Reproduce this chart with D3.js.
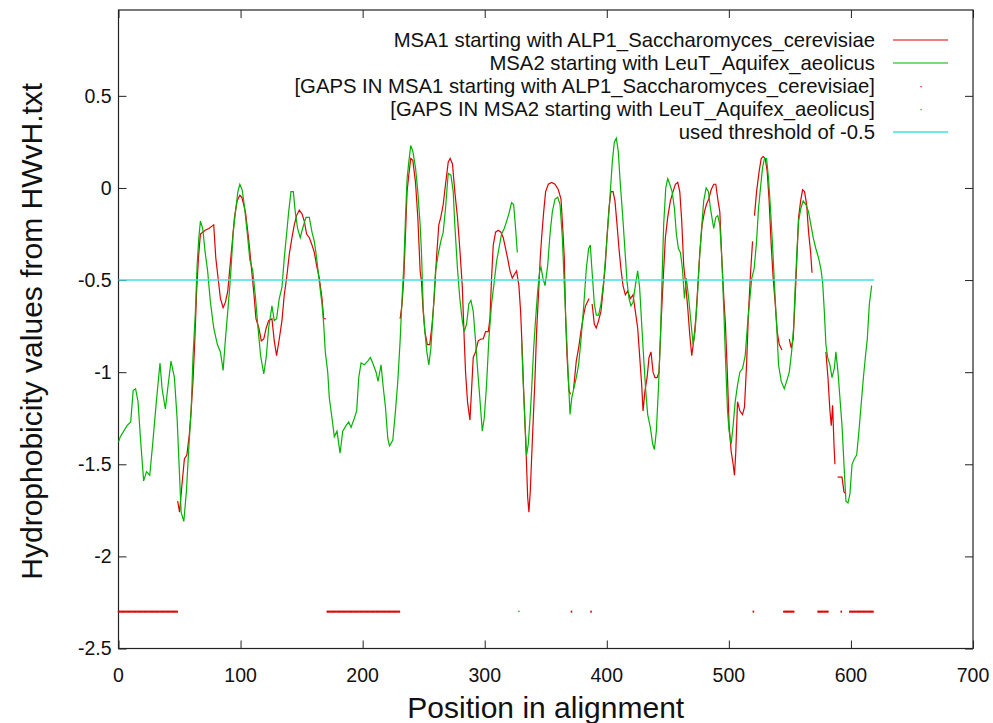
<!DOCTYPE html>
<html><head><meta charset="utf-8">
<script src="https://cdn.jsdelivr.net/npm/d3@7"></script>
<style>html,body{margin:0;padding:0;background:#fff;}svg{display:block;font-family:"Liberation Sans",Arial,sans-serif;}</style>
</head><body>
<script>
// ---- data ----
const xTicks = [0,100,200,300,400,500,600,700];
const yTicks = [0.5,0,-0.5,-1,-1.5,-2,-2.5];
const legendLabels = [
  "MSA1 starting with ALP1_Saccharomyces_cerevisiae",
  "MSA2 starting with LeuT_Aquifex_aeolicus",
  "[GAPS IN MSA1 starting with ALP1_Saccharomyces_cerevisiae]",
  "[GAPS IN MSA2 starting with LeuT_Aquifex_aeolicus]",
  "used threshold of -0.5"
];
const threshold = -0.5;
const gapLevel = -2.3;
// null marks a break in the line
const msa1X = [48.5,50,52,54,56,58,59.5,61,62.5,64,65.5,67.1,69,71,74,76,78,79.7,81.6,83.5,85.7,87.6,89.5,91,93,95,97.2,99.4,101,104,106.8,108.7,111,112.6,115,117,119,121,123,125.7,127.6,129.5,131.7,133.9,135.8,137.7,139.9,142.1,144,145.9,148.1,150.3,152.2,154.1,156.3,158.5,160.4,162.3,164.5,166.7,168.1,170,
 null,
 230.7,232.3,233.7,235.1,236.4,237.8,239.4,241.1,243.3,245.2,247.1,248.2,249.6,251,253,255,256.9,258.6,260.5,262.4,264,266,267.9,270.1,271.7,273.6,275.5,277.7,279.6,281.6,283.2,284.3,285.9,287.9,289.2,290.6,292.5,294.7,296.9,298.8,300.7,302.9,304.3,305.6,307,308.9,311.1,313.3,315.2,317.1,318.7,320.7,322.6,324.2,326.1,328,329.4,330.8,331.9,333,334.1,335.2,336.2,337.3,338.4,339.8,341.2,342.5,343.9,345.5,346.6,348.3,349.9,352.1,354.8,357.6,360.3,362.5,364.1,365.2,366.3,367.4,369,370.3,
 null,
 372.8,375,376.9,378.8,381,382.6,385.5,
 null,
 388,389.8,391.4,393.3,395.2,396.9,398.8,400.1,401.8,403.4,405.1,406.7,408.4,410,411.6,413.3,415.2,417.1,419.3,421.5,423.4,425.3,426.9,428.6,429.7,431.3,433,434.6,436.2,437.9,439.5,441.2,442.8,444.4,446.1,448,449.9,452.1,454.3,456.2,458.1,459.8,461.4,463,464.7,466.3,468,469.6,471.2,472.9,474.5,476.2,478.1,480,481.6,483.5,485.5,487.6,489.3,490.9,492.6,494.2,495.9,497.2,498.9,500.2,501.9,503.5,504.6,505.7,507.1,509,511.2,512.8,514.5,516.1,517.7,519.4,
 null,
 521,522.7,524.8,526.5,528.1,529.8,531.4,533,534.7,536.3,538,539.6,541.3,543.5,
 null,
 549.5,551.1,552.7,553.8,555.5,557.1,558.8,560.4,562,563.7,565.3,567,568.1,
 null,
 579.5,581.2,582.8,583.9,585,586.1,586.9,
 null,
 589.1,591,592.7,594.3,596];
const msa1Y = [-1.70,-1.76,-1.61,-1.47,-1.45,-1.34,-1.21,-1.05,-0.83,-0.56,-0.38,-0.25,-0.24,-0.23,-0.22,-0.21,-0.20,-0.38,-0.49,-0.60,-0.65,-0.62,-0.56,-0.45,-0.31,-0.16,-0.07,-0.04,-0.05,-0.13,-0.29,-0.42,-0.58,-0.71,-0.76,-0.83,-0.82,-0.76,-0.72,-0.71,-0.83,-0.91,-0.82,-0.72,-0.58,-0.49,-0.36,-0.27,-0.20,-0.15,-0.12,-0.14,-0.18,-0.25,-0.27,-0.31,-0.35,-0.42,-0.49,-0.60,-0.71,-0.71,
 null,
 -0.71,-0.63,-0.49,-0.25,-0.02,0.07,0.16,0.15,0.03,-0.16,-0.45,-0.51,-0.67,-0.78,-0.85,-0.85,-0.74,-0.60,-0.38,-0.20,-0.16,-0.09,0.02,0.14,0.16,0.13,-0.02,-0.16,-0.33,-0.53,-0.82,-1.00,-1.16,-1.26,-1.10,-0.92,-0.89,-0.83,-0.82,-0.82,-0.78,-0.78,-0.71,-0.49,-0.31,-0.24,-0.23,-0.24,-0.27,-0.33,-0.38,-0.45,-0.49,-0.47,-0.45,-0.53,-0.67,-0.89,-1.10,-1.28,-1.47,-1.68,-1.76,-1.65,-1.47,-1.25,-1.03,-0.78,-0.60,-0.38,-0.27,-0.13,-0.02,0.02,0.03,0.02,-0.01,-0.06,-0.24,-0.38,-0.71,-0.91,-1.10,-1.12,
 null,
 -1.09,-0.94,-0.87,-0.78,-0.69,-0.64,-0.60,
 null,
 -0.63,-0.74,-0.76,-0.72,-0.67,-0.56,-0.42,-0.27,-0.11,-0.02,-0.02,-0.07,-0.20,-0.33,-0.44,-0.53,-0.58,-0.56,-0.60,-0.58,-0.67,-0.76,-0.91,-1.07,-1.21,-1.10,-1.03,-0.92,-0.89,-1.00,-1.03,-1.03,-1.00,-0.74,-0.51,-0.27,-0.16,-0.07,-0.02,0.02,0.03,-0.02,-0.18,-0.42,-0.53,-0.65,-0.80,-0.91,-0.83,-0.71,-0.54,-0.35,-0.20,-0.13,-0.09,-0.06,-0.01,0.02,0.02,-0.06,-0.13,-0.38,-0.60,-0.74,-1.03,-1.29,-1.43,-1.50,-1.56,-1.43,-1.16,-1.21,-1.23,-1.19,-0.96,-0.67,-0.47,-0.29,
 null,
 -0.15,-0.02,0.09,0.16,0.17,0.16,0.09,-0.07,-0.31,-0.49,-0.63,-0.78,-0.85,-0.88,
 null,
 -0.82,-0.87,-0.82,-0.67,-0.42,-0.16,-0.07,-0.01,-0.02,-0.09,-0.24,-0.35,-0.46,
 null,
 -0.89,-1.03,-1.21,-1.29,-1.18,-1.39,-1.50,
 null,
 -1.57,-1.57,-1.57,-1.65,-1.66];
const msa2X = [0,1.5,7,10,12,14,16,18,20.6,23,25.6,28,31,34,35.7,38.4,40.3,43,45.8,48,50,51.3,53.5,55.6,57.6,59.5,61,63,64.4,65.8,67.1,69,71,73,75.3,78,81,83.5,85.7,87.6,89.5,91.7,94,95.8,97.8,99.4,101.3,103,105.4,107.6,110,112.3,114,116.4,119,121,123,125.7,127.6,129.5,131.7,133.9,135.8,137.7,139.4,141.3,143.2,144.8,146.7,148.9,150.8,153.6,156.3,158.5,160.4,162.3,164.5,166.7,168.1,169.4,171.4,172.7,174.9,176.8,179,181.5,183.7,186.4,188.6,190.5,193.2,195.1,196.8,198.7,201.4,204.2,206.4,208.8,211,212.6,215.1,217,218.7,220.6,222,224.7,226.9,228.8,230.7,232.3,233.7,235.1,236.4,237.8,239.4,241.1,243.3,245.2,247.1,248.2,249.6,251,252.6,254.2,255.9,257.8,259.7,261.9,264,266,267.9,270.1,272.3,274.2,275.5,277.7,279.6,281.6,283.2,285.1,287,288.7,290.6,292.5,294.1,296,298,299.6,301.5,303.4,305.6,307.8,309.7,311.6,313.8,316,318,319.8,322,323.7,325.3,326.7,
 null,
 330.2,331.6,333,334.3,335.7,337.1,338.4,340.1,341.7,343.4,345,346.1,347.7,349.4,351.6,353.5,355.4,357.6,359.8,361.7,363.6,365.2,366.9,368.5,369.9,371.3,372.6,375,376.9,378.8,381,383.2,385.1,386.5,387.8,389.8,391.4,393.3,395.2,397.4,399.3,401,402.9,404.5,406.2,407.8,409.4,411.1,413,414.6,416.6,418.2,419.8,421.5,423.4,425.3,426.9,428.6,430.2,431.9,433.5,435.7,437.6,439,440.6,442.3,443.9,445.3,446.6,448.3,449.9,451.6,453.5,455.4,457,458.7,460.3,462,463.6,465.2,467.1,469.1,470.7,472.3,474,475.6,477.3,479.4,481.4,483.3,484.9,486.6,487.6,489.3,490.9,492.6,494.2,495.9,497.2,498.9,500.2,501.9,503.5,505.2,507.1,509,511.2,513.4,515.3,517.2,518.8,520.7,522.7,524.3,525.9,527.6,529.2,530.9,532.5,534.1,535.8,537.4,539.1,540.7,542.9,545.4,547.3,549.5,551.4,553,554.4,555.7,557.1,559,560.9,563.1,565.3,567.2,569.1,571.3,573.5,575.4,576.8,578.2,579.5,580.9,582.8,584.5,586.4,587.7,589.4,591,592.7,594.3,595.9,597.6,599.2,600.9,602.8,604.7,606.3,608.2,610.2,611.8,613.4,615.1,617];
const msa2Y = [-1.38,-1.35,-1.29,-1.27,-1.10,-1.09,-1.16,-1.36,-1.59,-1.54,-1.56,-1.39,-1.16,-0.95,-1.09,-1.20,-1.09,-0.94,-1.03,-1.25,-1.56,-1.76,-1.81,-1.65,-1.41,-1.21,-0.92,-0.67,-0.42,-0.27,-0.18,-0.22,-0.35,-0.45,-0.62,-0.76,-0.85,-0.89,-0.99,-0.82,-0.67,-0.49,-0.24,-0.13,-0.02,0.02,-0.01,-0.09,-0.24,-0.39,-0.45,-0.60,-0.74,-0.91,-1.01,-0.92,-0.76,-0.64,-0.72,-0.71,-0.60,-0.54,-0.38,-0.25,-0.13,-0.02,-0.02,-0.13,-0.22,-0.27,-0.22,-0.16,-0.16,-0.24,-0.29,-0.38,-0.51,-0.63,-0.74,-0.89,-1.00,-1.14,-1.25,-1.35,-1.32,-1.44,-1.32,-1.29,-1.27,-1.30,-1.25,-1.21,-1.03,-0.95,-0.96,-0.94,-0.92,-0.96,-1.00,-1.05,-0.96,-1.09,-1.19,-1.36,-1.40,-1.37,-1.21,-1.05,-0.83,-0.60,-0.42,-0.16,0.05,0.14,0.23,0.20,0.11,-0.02,-0.20,-0.35,-0.65,-0.78,-0.89,-0.96,-0.87,-0.67,-0.45,-0.36,-0.29,-0.24,-0.11,0.08,0.07,-0.02,-0.20,-0.44,-0.60,-0.72,-0.78,-0.74,-0.63,-0.61,-0.67,-0.83,-0.98,-1.14,-1.32,-1.25,-1.07,-0.82,-0.63,-0.51,-0.40,-0.33,-0.25,-0.22,-0.18,-0.14,-0.08,-0.09,-0.22,-0.35,
 null,
 -0.83,-1.07,-1.28,-1.45,-1.39,-1.25,-1.10,-0.87,-0.71,-0.56,-0.45,-0.43,-0.49,-0.53,-0.42,-0.25,-0.13,-0.06,-0.05,-0.09,-0.27,-0.53,-0.78,-1.03,-1.23,-1.14,-1.10,-1.03,-0.96,-0.83,-0.65,-0.44,-0.33,-0.31,-0.44,-0.63,-0.69,-0.69,-0.63,-0.51,-0.35,-0.20,-0.02,0.14,0.25,0.27,0.20,0.02,-0.15,-0.31,-0.51,-0.60,-0.64,-0.62,-0.53,-0.45,-0.54,-0.74,-0.92,-1.10,-1.23,-1.30,-1.39,-1.42,-1.32,-1.09,-0.82,-0.49,-0.20,0.00,0.05,0.02,-0.02,-0.11,-0.25,-0.33,-0.35,-0.44,-0.60,-0.49,-0.60,-0.74,-0.85,-0.78,-0.62,-0.42,-0.25,-0.07,0.00,-0.02,-0.11,-0.18,-0.22,-0.16,-0.15,-0.20,-0.38,-0.67,-0.92,-1.21,-1.32,-1.39,-1.29,-1.16,-1.07,-1.00,-0.98,-0.91,-0.74,-0.60,-0.49,-0.44,-0.29,-0.11,0.00,0.11,0.16,0.16,0.05,-0.11,-0.31,-0.53,-0.74,-0.96,-1.05,-1.09,-1.05,-1.00,-0.89,-0.76,-0.53,-0.35,-0.18,-0.11,-0.07,-0.09,-0.13,-0.20,-0.27,-0.33,-0.38,-0.44,-0.51,-0.67,-0.85,-0.92,-0.96,-1.03,-0.98,-0.89,-1.00,-1.14,-1.29,-1.50,-1.70,-1.71,-1.66,-1.50,-1.47,-1.45,-1.34,-1.19,-1.03,-0.92,-0.82,-0.63,-0.53];
const gapRanges1 = [[0,48],[171,230],[371,371],[387,387],[520,520],[545,553],[573,581],[592,592],[599,618]];
const gapRanges2 = [[328,328]];
const thresholdSpan = [0,619];

// ---- chart ----
const W = 993, H = 723;
const colors = {msa1:"#e00000", msa2:"#00b400", thr:"#40e0e0"};
const svg = d3.select("body").append("svg").attr("width",W).attr("height",H);
const x = d3.scaleLinear().domain([0,700]).range([118.5,973]);
const y = d3.scaleLinear().domain([-2.5,0.966]).range([648.5,10]);
const pL = x.range()[0], pR = x.range()[1], pT = y.range()[1], pB = y.range()[0];

// axes (ticks inward, mirrored)
const tickLen = 8;
const gL = svg.append("g").attr("transform",`translate(${pL},0)`)
  .call(d3.axisRight(y).tickValues(yTicks).tickSize(tickLen).tickFormat(""));
const gR = svg.append("g").attr("transform",`translate(${pR},0)`)
  .call(d3.axisLeft(y).tickValues(yTicks).tickSize(tickLen).tickFormat(""));
const gB = svg.append("g").attr("transform",`translate(0,${pB})`)
  .call(d3.axisTop(x).tickValues(xTicks).tickSize(tickLen).tickFormat(""));
const gT = svg.append("g").attr("transform",`translate(0,${pT})`)
  .call(d3.axisBottom(x).tickValues(xTicks).tickSize(tickLen).tickFormat(""));
[gL,gR,gB,gT].forEach(g=>{g.select(".domain").remove(); g.selectAll("line").attr("stroke","#222");});

// tick labels
svg.append("g").selectAll("text").data(yTicks).join("text")
  .attr("x",pL-7).attr("y",d=>y(d)).attr("dy","0.35em")
  .attr("text-anchor","end").attr("font-size",19.5).attr("fill","#111")
  .text(d=>String(d));
svg.append("g").selectAll("text").data(xTicks).join("text")
  .attr("x",d=>x(d)).attr("y",pB+33)
  .attr("text-anchor","middle").attr("font-size",19.5).attr("fill","#111")
  .text(d=>d);

// border
svg.append("rect").attr("x",pL).attr("y",pT).attr("width",pR-pL).attr("height",pB-pT)
  .attr("fill","none").attr("stroke","#222").attr("stroke-width",1.2);

// axis titles
svg.append("text").attr("x",(pL+pR)/2).attr("y",718).attr("text-anchor","middle")
  .attr("font-size",30).attr("fill","#111").text("Position in alignment");
svg.append("text").attr("transform",`translate(42,${(pT+pB)/2+2}) rotate(-90)`)
  .attr("text-anchor","middle").attr("font-size",30).attr("fill","#111")
  .text("Hydrophobicity values from HWvH.txt");

// lines
function pts(xs,ys){return xs.map((v,i)=>({x:v,y:ys[i]}));}
const line = d3.line().defined(d=>d.x!=null && d.y!=null).x(d=>x(d.x)).y(d=>y(d.y));
const plot = svg.append("g");
plot.append("path").datum(pts(msa1X,msa1Y)).attr("d",line)
  .attr("fill","none").attr("stroke",colors.msa1).attr("stroke-width",1.2);
plot.append("path").datum(pts(msa2X,msa2Y)).attr("d",line)
  .attr("fill","none").attr("stroke",colors.msa2).attr("stroke-width",1.2);

// gaps as dots at gap level
function expand(ranges){const out=[];ranges.forEach(([a,b])=>{for(let i=a;i<=b;i++)out.push(i);});return out;}
plot.append("g").selectAll("rect").data(expand(gapRanges1)).join("rect")
  .attr("x",d=>x(d)-0.7).attr("y",y(gapLevel)-1).attr("width",1.6).attr("height",2).attr("fill",colors.msa1);
plot.append("g").selectAll("rect").data(expand(gapRanges2)).join("rect")
  .attr("x",d=>x(d)-0.7).attr("y",y(gapLevel)-1).attr("width",1.4).attr("height",1.4).attr("fill",colors.msa2);

// threshold
plot.append("line").attr("x1",x(thresholdSpan[0])).attr("x2",x(thresholdSpan[1]))
  .attr("y1",y(threshold)).attr("y2",y(threshold)).attr("stroke",colors.thr).attr("stroke-width",1.5);

// legend
const legRowY = [40,63,86,109,132];
const legTextX = 875, legX1 = 893, legX2 = 948;
const leg = svg.append("g");
leg.selectAll("text").data(legendLabels).join("text")
  .attr("x",legTextX).attr("y",(d,i)=>legRowY[i]).attr("dy","0.35em")
  .attr("text-anchor","end").attr("font-size",20.3).attr("fill","#111").text(d=>d);
leg.append("line").attr("x1",legX1).attr("x2",legX2).attr("y1",legRowY[0]).attr("y2",legRowY[0]).attr("stroke",colors.msa1).attr("stroke-width",1.2);
leg.append("line").attr("x1",legX1).attr("x2",legX2).attr("y1",legRowY[1]).attr("y2",legRowY[1]).attr("stroke",colors.msa2).attr("stroke-width",1.2);
leg.append("rect").attr("x",(legX1+legX2)/2).attr("y",legRowY[2]).attr("width",1.2).attr("height",1.2).attr("fill",colors.msa1);
leg.append("rect").attr("x",(legX1+legX2)/2).attr("y",legRowY[3]).attr("width",1.2).attr("height",1.2).attr("fill",colors.msa2);
leg.append("line").attr("x1",legX1).attr("x2",legX2).attr("y1",legRowY[4]).attr("y2",legRowY[4]).attr("stroke",colors.thr).attr("stroke-width",1.5);
</script>
</body></html>
